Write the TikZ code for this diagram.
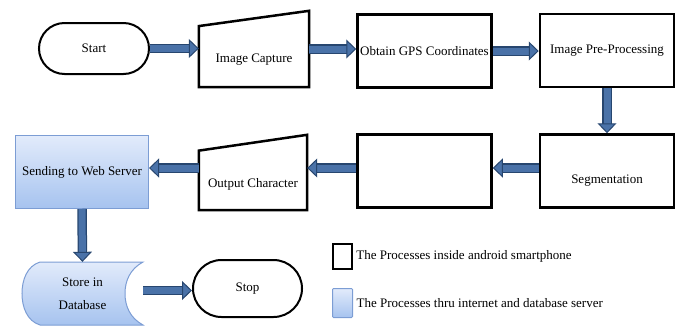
\documentclass[tikz,border=0pt]{standalone}
\usepackage{fontspec}
\setmainfont{Liberation Serif}
\usetikzlibrary{arrows.meta,calc}
\definecolor{arrowdark}{HTML}{27466F}
\definecolor{arrowmid}{HTML}{4A72A8}
\definecolor{webtop}{HTML}{E2EBFB}
\definecolor{webbot}{HTML}{A6C3EF}
\definecolor{webline}{HTML}{7C9DD4}
\tikzset{
	proc/.style={draw, line width=2.5pt, minimum width=134pt, minimum height=73pt, inner sep=0pt},
	term/.style={draw, line width=2pt, inner sep=0pt},
	manin/.style={minimum width=110pt, minimum height=76pt, text height=27pt, text depth=0pt, inner sep=0pt},
	manline/.style={draw, line width=2.5pt, line join=miter},
	web/.style={draw=webline, line width=1pt, top color=webtop, bottom color=webbot},
	blockarrow/.style={draw=arrowmid, line width=7pt,
		-{Triangle[length=10pt, width=19pt, line width=1pt, color=arrowdark, fill=arrowmid]},
		preaction={draw=arrowdark, line width=9.5pt, -, shorten >=9pt}},
}
\begin{document}
\begin{tikzpicture}[x=1pt, y=-1pt, font=\fontsize{13}{15}\selectfont]
	\useasboundingbox (0,0) rectangle (680,327);
	% first row
	\node[term, rounded corners=25.5pt, minimum width=110pt, minimum height=51pt] (start) at (94,48.5) {Start};
	\node[manin] (cap) at (254,49) {Image Capture};
	\draw[manline] (cap.south west) -- ($(cap.north west)!.2!(cap.south west)$) -- (cap.north east) -- (cap.south east) -- cycle;
	\node[proc] (gps) at (424.5,51) {Obtain GPS Coordinates};
	\node[proc] (pre) at (607,50.5) {Image Pre-Processing};
	% second row
	\node[proc, text height=25pt, text depth=0pt] (seg) at (607,171) {Segmentation};
	\node[proc] (blank) at (424.5,171) {};
	\node[manin, minimum width=108pt, minimum height=75pt, text height=29pt] (outc) at (253,172.5) {Output Character};
	\draw[manline] (outc.south west) -- ($(outc.north west)!.21!(outc.south west)$) -- (outc.north east) -- (outc.south east) -- cycle;
	\node[web, minimum width=133pt, minimum height=73pt, inner sep=0pt] (send) at (82,172) {Sending to Web Server};
	% third row
	\path[web] (143,262) -- (40,262) .. controls (27,266) and (22,280) .. (22,293.5)
		.. controls (22,307) and (27,321) .. (40,325) -- (143,325)
		.. controls (130,318) and (125,306) .. (125,293.5)
		.. controls (125,281) and (130,269) .. cycle;
	\node[minimum width=121pt, minimum height=63pt, inner sep=0pt, align=center] (store) at (82.5,293.5) {Store in\\[8pt]Database};
	\node[term, rounded corners=28.5pt, minimum width=109pt, minimum height=57pt] (stop) at (247.5,288.5) {Stop};
	% arrows
	\draw[blockarrow] (start.east) -- (start.east -| cap.west);
	\draw[blockarrow] (cap.east) -- (cap.east -| gps.west);
	\draw[blockarrow] (gps.east) -- (gps.east -| pre.west);
	\draw[blockarrow] (pre.south) -- (seg.north);
	\draw[blockarrow] ([yshift=3pt]seg.west) -- ([yshift=3pt]seg.west -| blank.east);
	\draw[blockarrow] ([yshift=3pt]blank.west) -- ([yshift=3pt]blank.west -| outc.east);
	\draw[blockarrow] ([yshift=4.5pt]outc.west) -- ([yshift=4.5pt]outc.west -| send.east);
	\draw[blockarrow] (send.south) -- (store.north);
	\draw[blockarrow] ([yshift=3pt]store.east) -- ([yshift=3pt]store.east -| stop.west);
	% legend
	\node[draw, line width=2.5pt, minimum width=19pt, minimum height=25pt, inner sep=0pt] (lgphone) at (342.5,256.5) {};
	\node[anchor=west, inner sep=0pt] (lgphonetxt) at ([xshift=3pt]lgphone.east) {The Processes inside android smartphone};
	\node[web, rounded corners=1pt, minimum width=20pt, minimum height=29pt, inner sep=0pt] (lgserver) at (342.5,303) {};
	\node[anchor=west, inner sep=0pt] (lgservertxt) at ([xshift=3.5pt]lgserver.east) {The Processes thru internet and database server};
\end{tikzpicture}
\end{document}
